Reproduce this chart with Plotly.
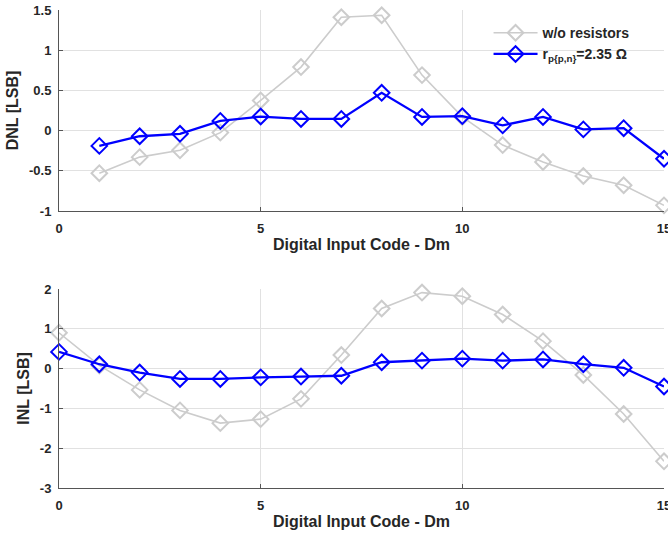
import plotly.graph_objects as go

# ---- data ----
code_dnl = list(range(1, 16))
dnl_wo = [-0.53, -0.33, -0.245, -0.025, 0.375, 0.79, 1.41, 1.435, 0.69, 0.17, -0.18, -0.39, -0.565, -0.68, -0.93]
dnl_r = [-0.19, -0.07, -0.04, 0.12, 0.175, 0.145, 0.145, 0.47, 0.17, 0.18, 0.065, 0.17, 0.015, 0.03, -0.35]

code_inl = list(range(0, 16))
inl_wo = [0.90, 0.08, -0.535, -1.05, -1.37, -1.27, -0.76, 0.34, 1.51, 1.91, 1.82, 1.36, 0.69, -0.16, -1.14, -2.33]
inl_r = [0.42, 0.11, -0.10, -0.26, -0.26, -0.22, -0.20, -0.18, 0.16, 0.20, 0.25, 0.20, 0.23, 0.11, 0.02, -0.45]

x_ticks = [0, 5, 10, 15]
dnl_ticks = [-1, -0.5, 0, 0.5, 1, 1.5]
dnl_labels = ["-1", "-0.5", "0", "0.5", "1", "1.5"]
inl_ticks = [-3, -2, -1, 0, 1, 2]
inl_labels = ["-3", "-2", "-1", "0", "1", "2"]

name_wo = "w/o resistors"
name_r = "r<sub>p{p,n}</sub>=2.35 Ω"
x_title = "Digital Input Code - Dm"

GRAY = "#cccccc"
BLUE = "#0000ff"
TXT = "#262626"
FONT = "Liberation Sans"

fig = go.Figure()

def add(x, y, name, color, width, xa, ya, show):
    fig.add_trace(go.Scatter(
        x=x, y=y, name=name, mode="lines+markers",
        line=dict(color=color, width=width),
        marker=dict(symbol="diamond-open", size=12, color=color, line=dict(width=2, color=color)),
        xaxis=xa, yaxis=ya, showlegend=show, cliponaxis=False,
    ))

add(code_dnl, dnl_wo, name_wo, GRAY, 1.6, "x", "y", True)
add(code_dnl, dnl_r, name_r, BLUE, 2.3, "x", "y", True)
add(code_inl, inl_wo, name_wo, GRAY, 1.6, "x2", "y2", False)
add(code_inl, inl_r, name_r, BLUE, 2.3, "x2", "y2", False)

axis_common = dict(
    showgrid=True, gridcolor="#e1e1e1", gridwidth=1,
    showline=True, linecolor="#555555", linewidth=1,
    ticks="inside", ticklen=4, tickcolor="#555555",
    tickfont=dict(family=FONT, size=13, color=TXT, weight="bold"),
    zeroline=False, mirror=False, ticklabeloverflow="allow", automargin=False,
)

title_font = dict(family=FONT, size=16, color=TXT, weight="bold")

fig.update_layout(
    width=668, height=536,
    margin=dict(l=59, r=4, t=10, b=48, autoexpand=False),
    paper_bgcolor="white", plot_bgcolor="white",
    font=dict(family=FONT, color=TXT, weight="bold"),
    xaxis=dict(domain=[0, 1], anchor="y", range=[0, 15], tickvals=x_ticks,
               ticktext=[str(v) for v in x_ticks], ticklabelstandoff=5,
               title=dict(text=x_title, font=title_font, standoff=4),
               **axis_common),
    yaxis=dict(domain=[0.5795, 1], anchor="x", range=[-1, 1.5], tickvals=dnl_ticks,
               ticktext=dnl_labels, ticklabelstandoff=4,
               title=dict(text="DNL [LSB]", font=title_font, standoff=6),
               **axis_common),
    xaxis2=dict(domain=[0, 1], anchor="y2", range=[0, 15], tickvals=x_ticks,
                ticktext=[str(v) for v in x_ticks], ticklabelstandoff=5,
                title=dict(text=x_title, font=title_font, standoff=4),
                **axis_common),
    yaxis2=dict(domain=[0, 0.4163], anchor="x2", range=[-3, 2], tickvals=inl_ticks,
                ticktext=inl_labels, ticklabelstandoff=4,
                title=dict(text="INL [LSB]", font=title_font, standoff=6),
                **axis_common),
    legend=dict(x=0.71, y=0.985, xanchor="left", yanchor="top",
                bgcolor="rgba(0,0,0,0)", borderwidth=0,
                font=dict(family=FONT, size=14, color=TXT, weight="bold"),
                itemwidth=44, tracegroupgap=0),
)

fig.write_html("out.html",
               config={"displayModeBar": False},
               post_script="document.body.style.margin='0';document.body.style.overflow='hidden';")
